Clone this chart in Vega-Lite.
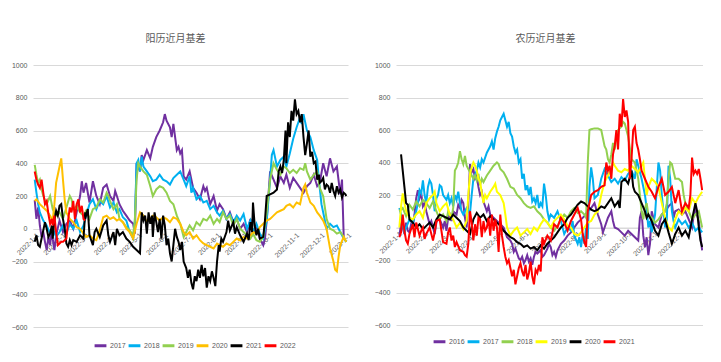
{
"$schema": "https://vega.github.io/schema/vega-lite/v6.json",
"background": "white",
"padding": {"left": 9, "top": 34, "right": 0, "bottom": 0},
"spacing": 19,
"datasets": {
"left": [
{"s":"2017","d":"2022-01-01","v":175},{"s":"2017","d":"2022-01-03","v":60},{"s":"2017","d":"2022-01-05","v":130},{"s":"2017","d":"2022-01-07","v":20},{"s":"2017","d":"2022-01-09","v":-50},{"s":"2017","d":"2022-01-11","v":-20},{"s":"2017","d":"2022-01-13","v":-80},{"s":"2017","d":"2022-01-15","v":-130},{"s":"2017","d":"2022-01-17","v":-50},{"s":"2017","d":"2022-01-19","v":-100},{"s":"2017","d":"2022-01-21","v":0},{"s":"2017","d":"2022-01-22","v":-60},{"s":"2017","d":"2022-01-24","v":-130},{"s":"2017","d":"2022-01-26","v":-40},{"s":"2017","d":"2022-01-30","v":50},{"s":"2017","d":"2022-02-03","v":-20},{"s":"2017","d":"2022-02-07","v":30},{"s":"2017","d":"2022-02-11","v":50},{"s":"2017","d":"2022-02-15","v":0},{"s":"2017","d":"2022-02-19","v":100},{"s":"2017","d":"2022-02-23","v":200},{"s":"2017","d":"2022-02-25","v":290},{"s":"2017","d":"2022-02-27","v":220},{"s":"2017","d":"2022-03-02","v":280},{"s":"2017","d":"2022-03-04","v":220},{"s":"2017","d":"2022-03-06","v":160},{"s":"2017","d":"2022-03-10","v":290},{"s":"2017","d":"2022-03-14","v":200},{"s":"2017","d":"2022-03-18","v":150},{"s":"2017","d":"2022-03-22","v":250},{"s":"2017","d":"2022-03-24","v":260},{"s":"2017","d":"2022-03-26","v":270},{"s":"2017","d":"2022-03-30","v":200},{"s":"2017","d":"2022-04-03","v":170},{"s":"2017","d":"2022-04-05","v":230},{"s":"2017","d":"2022-04-07","v":200},{"s":"2017","d":"2022-04-10","v":150},{"s":"2017","d":"2022-04-14","v":110},{"s":"2017","d":"2022-04-18","v":80},{"s":"2017","d":"2022-04-22","v":50},{"s":"2017","d":"2022-04-26","v":30},{"s":"2017","d":"2022-04-28","v":-30},{"s":"2017","d":"2022-04-30","v":400},{"s":"2017","d":"2022-05-04","v":350},{"s":"2017","d":"2022-05-06","v":450},{"s":"2017","d":"2022-05-08","v":420},{"s":"2017","d":"2022-05-12","v":480},{"s":"2017","d":"2022-05-16","v":430},{"s":"2017","d":"2022-05-19","v":500},{"s":"2017","d":"2022-05-23","v":560},{"s":"2017","d":"2022-05-27","v":600},{"s":"2017","d":"2022-05-31","v":650},{"s":"2017","d":"2022-06-02","v":700},{"s":"2017","d":"2022-06-04","v":660},{"s":"2017","d":"2022-06-08","v":620},{"s":"2017","d":"2022-06-10","v":560},{"s":"2017","d":"2022-06-12","v":640},{"s":"2017","d":"2022-06-16","v":480},{"s":"2017","d":"2022-06-18","v":500},{"s":"2017","d":"2022-06-20","v":460},{"s":"2017","d":"2022-06-22","v":480},{"s":"2017","d":"2022-06-24","v":320},{"s":"2017","d":"2022-06-27","v":300},{"s":"2017","d":"2022-07-01","v":350},{"s":"2017","d":"2022-07-05","v":250},{"s":"2017","d":"2022-07-09","v":220},{"s":"2017","d":"2022-07-13","v":180},{"s":"2017","d":"2022-07-17","v":260},{"s":"2017","d":"2022-07-19","v":230},{"s":"2017","d":"2022-07-21","v":250},{"s":"2017","d":"2022-07-25","v":150},{"s":"2017","d":"2022-07-29","v":200},{"s":"2017","d":"2022-08-02","v":110},{"s":"2017","d":"2022-08-05","v":150},{"s":"2017","d":"2022-08-09","v":120},{"s":"2017","d":"2022-08-13","v":60},{"s":"2017","d":"2022-08-17","v":100},{"s":"2017","d":"2022-08-21","v":40},{"s":"2017","d":"2022-08-25","v":60},{"s":"2017","d":"2022-08-29","v":0},{"s":"2017","d":"2022-09-02","v":30},{"s":"2017","d":"2022-09-06","v":-20},{"s":"2017","d":"2022-09-10","v":60},{"s":"2017","d":"2022-09-13","v":-30},{"s":"2017","d":"2022-09-17","v":20},{"s":"2017","d":"2022-09-21","v":-60},{"s":"2017","d":"2022-09-25","v":-100},{"s":"2017","d":"2022-09-27","v":-60},{"s":"2017","d":"2022-09-29","v":50},{"s":"2017","d":"2022-10-01","v":200},{"s":"2017","d":"2022-10-03","v":350},{"s":"2017","d":"2022-10-07","v":300},{"s":"2017","d":"2022-10-11","v":250},{"s":"2017","d":"2022-10-15","v":320},{"s":"2017","d":"2022-10-19","v":280},{"s":"2017","d":"2022-10-22","v":330},{"s":"2017","d":"2022-10-26","v":250},{"s":"2017","d":"2022-10-30","v":310},{"s":"2017","d":"2022-11-03","v":280},{"s":"2017","d":"2022-11-07","v":250},{"s":"2017","d":"2022-11-11","v":220},{"s":"2017","d":"2022-11-15","v":260},{"s":"2017","d":"2022-11-19","v":280},{"s":"2017","d":"2022-11-23","v":330},{"s":"2017","d":"2022-11-27","v":260},{"s":"2017","d":"2022-11-30","v":280},{"s":"2017","d":"2022-12-04","v":400},{"s":"2017","d":"2022-12-08","v":320},{"s":"2017","d":"2022-12-12","v":430},{"s":"2017","d":"2022-12-16","v":350},{"s":"2017","d":"2022-12-20","v":380},{"s":"2017","d":"2022-12-24","v":210},{"s":"2017","d":"2022-12-26","v":300},{"s":"2017","d":"2022-12-28","v":-50},
{"s":"2018","d":"2022-01-01","v":300},{"s":"2018","d":"2022-01-03","v":220},{"s":"2018","d":"2022-01-05","v":150},{"s":"2018","d":"2022-01-07","v":100},{"s":"2018","d":"2022-01-11","v":50},{"s":"2018","d":"2022-01-15","v":20},{"s":"2018","d":"2022-01-19","v":-30},{"s":"2018","d":"2022-01-22","v":0},{"s":"2018","d":"2022-01-26","v":-50},{"s":"2018","d":"2022-01-30","v":-20},{"s":"2018","d":"2022-02-03","v":20},{"s":"2018","d":"2022-02-07","v":-30},{"s":"2018","d":"2022-02-11","v":30},{"s":"2018","d":"2022-02-15","v":0},{"s":"2018","d":"2022-02-19","v":50},{"s":"2018","d":"2022-02-23","v":-20},{"s":"2018","d":"2022-02-27","v":20},{"s":"2018","d":"2022-03-02","v":80},{"s":"2018","d":"2022-03-06","v":150},{"s":"2018","d":"2022-03-10","v":180},{"s":"2018","d":"2022-03-14","v":120},{"s":"2018","d":"2022-03-18","v":170},{"s":"2018","d":"2022-03-22","v":150},{"s":"2018","d":"2022-03-26","v":200},{"s":"2018","d":"2022-03-30","v":130},{"s":"2018","d":"2022-04-03","v":160},{"s":"2018","d":"2022-04-07","v":100},{"s":"2018","d":"2022-04-10","v":120},{"s":"2018","d":"2022-04-14","v":70},{"s":"2018","d":"2022-04-18","v":50},{"s":"2018","d":"2022-04-22","v":-20},{"s":"2018","d":"2022-04-26","v":-60},{"s":"2018","d":"2022-04-28","v":50},{"s":"2018","d":"2022-04-30","v":400},{"s":"2018","d":"2022-05-02","v":420},{"s":"2018","d":"2022-05-04","v":350},{"s":"2018","d":"2022-05-06","v":440},{"s":"2018","d":"2022-05-08","v":380},{"s":"2018","d":"2022-05-12","v":350},{"s":"2018","d":"2022-05-16","v":320},{"s":"2018","d":"2022-05-19","v":290},{"s":"2018","d":"2022-05-23","v":300},{"s":"2018","d":"2022-05-27","v":330},{"s":"2018","d":"2022-05-31","v":300},{"s":"2018","d":"2022-06-04","v":290},{"s":"2018","d":"2022-06-08","v":270},{"s":"2018","d":"2022-06-12","v":310},{"s":"2018","d":"2022-06-16","v":330},{"s":"2018","d":"2022-06-20","v":350},{"s":"2018","d":"2022-06-24","v":300},{"s":"2018","d":"2022-06-27","v":260},{"s":"2018","d":"2022-07-01","v":320},{"s":"2018","d":"2022-07-03","v":220},{"s":"2018","d":"2022-07-05","v":250},{"s":"2018","d":"2022-07-09","v":180},{"s":"2018","d":"2022-07-13","v":200},{"s":"2018","d":"2022-07-17","v":160},{"s":"2018","d":"2022-07-21","v":170},{"s":"2018","d":"2022-07-25","v":120},{"s":"2018","d":"2022-07-29","v":140},{"s":"2018","d":"2022-08-02","v":100},{"s":"2018","d":"2022-08-05","v":80},{"s":"2018","d":"2022-08-09","v":110},{"s":"2018","d":"2022-08-13","v":60},{"s":"2018","d":"2022-08-17","v":90},{"s":"2018","d":"2022-08-21","v":40},{"s":"2018","d":"2022-08-25","v":80},{"s":"2018","d":"2022-08-29","v":50},{"s":"2018","d":"2022-09-02","v":90},{"s":"2018","d":"2022-09-06","v":0},{"s":"2018","d":"2022-09-10","v":50},{"s":"2018","d":"2022-09-13","v":-20},{"s":"2018","d":"2022-09-17","v":30},{"s":"2018","d":"2022-09-21","v":-30},{"s":"2018","d":"2022-09-25","v":-60},{"s":"2018","d":"2022-09-29","v":50},{"s":"2018","d":"2022-10-03","v":300},{"s":"2018","d":"2022-10-05","v":450},{"s":"2018","d":"2022-10-07","v":480},{"s":"2018","d":"2022-10-11","v":380},{"s":"2018","d":"2022-10-15","v":420},{"s":"2018","d":"2022-10-19","v":440},{"s":"2018","d":"2022-10-22","v":380},{"s":"2018","d":"2022-10-26","v":460},{"s":"2018","d":"2022-10-30","v":550},{"s":"2018","d":"2022-11-03","v":620},{"s":"2018","d":"2022-11-07","v":680},{"s":"2018","d":"2022-11-09","v":640},{"s":"2018","d":"2022-11-11","v":700},{"s":"2018","d":"2022-11-15","v":600},{"s":"2018","d":"2022-11-19","v":560},{"s":"2018","d":"2022-11-23","v":480},{"s":"2018","d":"2022-11-27","v":420},{"s":"2018","d":"2022-11-29","v":300},{"s":"2018","d":"2022-11-30","v":250},{"s":"2018","d":"2022-12-02","v":150},{"s":"2018","d":"2022-12-04","v":100},{"s":"2018","d":"2022-12-08","v":0},{"s":"2018","d":"2022-12-12","v":30},{"s":"2018","d":"2022-12-16","v":10},{"s":"2018","d":"2022-12-20","v":20},{"s":"2018","d":"2022-12-24","v":-20},{"s":"2018","d":"2022-12-28","v":-60},{"s":"2018","d":"2022-12-31","v":-80},
{"s":"2019","d":"2022-01-01","v":390},{"s":"2019","d":"2022-01-03","v":330},{"s":"2019","d":"2022-01-05","v":280},{"s":"2019","d":"2022-01-07","v":300},{"s":"2019","d":"2022-01-09","v":240},{"s":"2019","d":"2022-01-11","v":200},{"s":"2019","d":"2022-01-15","v":150},{"s":"2019","d":"2022-01-19","v":200},{"s":"2019","d":"2022-01-22","v":120},{"s":"2019","d":"2022-01-26","v":80},{"s":"2019","d":"2022-01-30","v":100},{"s":"2019","d":"2022-02-03","v":60},{"s":"2019","d":"2022-02-07","v":130},{"s":"2019","d":"2022-02-11","v":200},{"s":"2019","d":"2022-02-13","v":180},{"s":"2019","d":"2022-02-15","v":120},{"s":"2019","d":"2022-02-19","v":140},{"s":"2019","d":"2022-02-23","v":100},{"s":"2019","d":"2022-02-27","v":80},{"s":"2019","d":"2022-03-02","v":110},{"s":"2019","d":"2022-03-06","v":60},{"s":"2019","d":"2022-03-10","v":120},{"s":"2019","d":"2022-03-14","v":130},{"s":"2019","d":"2022-03-18","v":180},{"s":"2019","d":"2022-03-22","v":160},{"s":"2019","d":"2022-03-26","v":220},{"s":"2019","d":"2022-03-28","v":200},{"s":"2019","d":"2022-03-30","v":170},{"s":"2019","d":"2022-04-03","v":120},{"s":"2019","d":"2022-04-07","v":150},{"s":"2019","d":"2022-04-10","v":60},{"s":"2019","d":"2022-04-14","v":40},{"s":"2019","d":"2022-04-18","v":10},{"s":"2019","d":"2022-04-22","v":-10},{"s":"2019","d":"2022-04-26","v":-40},{"s":"2019","d":"2022-04-28","v":50},{"s":"2019","d":"2022-04-30","v":300},{"s":"2019","d":"2022-05-02","v":400},{"s":"2019","d":"2022-05-04","v":380},{"s":"2019","d":"2022-05-08","v":350},{"s":"2019","d":"2022-05-12","v":330},{"s":"2019","d":"2022-05-16","v":260},{"s":"2019","d":"2022-05-19","v":200},{"s":"2019","d":"2022-05-23","v":240},{"s":"2019","d":"2022-05-27","v":260},{"s":"2019","d":"2022-05-31","v":250},{"s":"2019","d":"2022-06-04","v":220},{"s":"2019","d":"2022-06-08","v":170},{"s":"2019","d":"2022-06-12","v":150},{"s":"2019","d":"2022-06-16","v":80},{"s":"2019","d":"2022-06-20","v":30},{"s":"2019","d":"2022-06-24","v":-50},{"s":"2019","d":"2022-06-27","v":-20},{"s":"2019","d":"2022-07-01","v":20},{"s":"2019","d":"2022-07-05","v":-10},{"s":"2019","d":"2022-07-09","v":40},{"s":"2019","d":"2022-07-13","v":20},{"s":"2019","d":"2022-07-17","v":60},{"s":"2019","d":"2022-07-21","v":50},{"s":"2019","d":"2022-07-25","v":80},{"s":"2019","d":"2022-07-29","v":30},{"s":"2019","d":"2022-08-02","v":60},{"s":"2019","d":"2022-08-05","v":40},{"s":"2019","d":"2022-08-09","v":100},{"s":"2019","d":"2022-08-13","v":60},{"s":"2019","d":"2022-08-17","v":80},{"s":"2019","d":"2022-08-21","v":20},{"s":"2019","d":"2022-08-25","v":60},{"s":"2019","d":"2022-08-29","v":0},{"s":"2019","d":"2022-09-02","v":-20},{"s":"2019","d":"2022-09-06","v":-40},{"s":"2019","d":"2022-09-10","v":-60},{"s":"2019","d":"2022-09-13","v":-30},{"s":"2019","d":"2022-09-17","v":-70},{"s":"2019","d":"2022-09-21","v":-80},{"s":"2019","d":"2022-09-25","v":-50},{"s":"2019","d":"2022-09-29","v":100},{"s":"2019","d":"2022-10-03","v":300},{"s":"2019","d":"2022-10-07","v":400},{"s":"2019","d":"2022-10-11","v":360},{"s":"2019","d":"2022-10-15","v":330},{"s":"2019","d":"2022-10-19","v":380},{"s":"2019","d":"2022-10-22","v":370},{"s":"2019","d":"2022-10-26","v":340},{"s":"2019","d":"2022-10-30","v":360},{"s":"2019","d":"2022-11-03","v":340},{"s":"2019","d":"2022-11-07","v":370},{"s":"2019","d":"2022-11-11","v":360},{"s":"2019","d":"2022-11-13","v":400},{"s":"2019","d":"2022-11-15","v":350},{"s":"2019","d":"2022-11-19","v":300},{"s":"2019","d":"2022-11-23","v":330},{"s":"2019","d":"2022-11-27","v":350},{"s":"2019","d":"2022-11-30","v":250},{"s":"2019","d":"2022-12-04","v":200},{"s":"2019","d":"2022-12-08","v":60},{"s":"2019","d":"2022-12-12","v":0},{"s":"2019","d":"2022-12-16","v":-10},{"s":"2019","d":"2022-12-20","v":-30},{"s":"2019","d":"2022-12-24","v":-20},{"s":"2019","d":"2022-12-28","v":-50},{"s":"2019","d":"2022-12-31","v":-80},
{"s":"2020","d":"2022-01-01","v":170},{"s":"2020","d":"2022-01-03","v":180},{"s":"2020","d":"2022-01-07","v":150},{"s":"2020","d":"2022-01-11","v":130},{"s":"2020","d":"2022-01-15","v":110},{"s":"2020","d":"2022-01-19","v":80},{"s":"2020","d":"2022-01-22","v":50},{"s":"2020","d":"2022-01-24","v":150},{"s":"2020","d":"2022-01-26","v":280},{"s":"2020","d":"2022-01-28","v":330},{"s":"2020","d":"2022-01-30","v":380},{"s":"2020","d":"2022-02-01","v":430},{"s":"2020","d":"2022-02-03","v":300},{"s":"2020","d":"2022-02-05","v":180},{"s":"2020","d":"2022-02-07","v":100},{"s":"2020","d":"2022-02-11","v":60},{"s":"2020","d":"2022-02-15","v":40},{"s":"2020","d":"2022-02-19","v":10},{"s":"2020","d":"2022-02-23","v":0},{"s":"2020","d":"2022-02-27","v":-30},{"s":"2020","d":"2022-03-02","v":-50},{"s":"2020","d":"2022-03-06","v":-40},{"s":"2020","d":"2022-03-10","v":-60},{"s":"2020","d":"2022-03-14","v":-70},{"s":"2020","d":"2022-03-18","v":-10},{"s":"2020","d":"2022-03-22","v":70},{"s":"2020","d":"2022-03-26","v":80},{"s":"2020","d":"2022-03-30","v":60},{"s":"2020","d":"2022-04-03","v":70},{"s":"2020","d":"2022-04-07","v":50},{"s":"2020","d":"2022-04-10","v":60},{"s":"2020","d":"2022-04-14","v":40},{"s":"2020","d":"2022-04-18","v":0},{"s":"2020","d":"2022-04-22","v":-20},{"s":"2020","d":"2022-04-26","v":-60},{"s":"2020","d":"2022-04-30","v":30},{"s":"2020","d":"2022-05-04","v":100},{"s":"2020","d":"2022-05-08","v":80},{"s":"2020","d":"2022-05-12","v":40},{"s":"2020","d":"2022-05-16","v":60},{"s":"2020","d":"2022-05-19","v":80},{"s":"2020","d":"2022-05-23","v":70},{"s":"2020","d":"2022-05-27","v":50},{"s":"2020","d":"2022-05-31","v":70},{"s":"2020","d":"2022-06-04","v":60},{"s":"2020","d":"2022-06-08","v":40},{"s":"2020","d":"2022-06-12","v":70},{"s":"2020","d":"2022-06-16","v":60},{"s":"2020","d":"2022-06-20","v":30},{"s":"2020","d":"2022-06-24","v":-20},{"s":"2020","d":"2022-06-27","v":-40},{"s":"2020","d":"2022-07-01","v":-20},{"s":"2020","d":"2022-07-05","v":-60},{"s":"2020","d":"2022-07-09","v":-40},{"s":"2020","d":"2022-07-13","v":-70},{"s":"2020","d":"2022-07-17","v":-90},{"s":"2020","d":"2022-07-21","v":-100},{"s":"2020","d":"2022-07-25","v":-110},{"s":"2020","d":"2022-07-29","v":-120},{"s":"2020","d":"2022-08-02","v":-90},{"s":"2020","d":"2022-08-05","v":-100},{"s":"2020","d":"2022-08-09","v":-110},{"s":"2020","d":"2022-08-13","v":-90},{"s":"2020","d":"2022-08-17","v":-100},{"s":"2020","d":"2022-08-21","v":-80},{"s":"2020","d":"2022-08-25","v":-60},{"s":"2020","d":"2022-08-29","v":-70},{"s":"2020","d":"2022-09-02","v":-50},{"s":"2020","d":"2022-09-06","v":-60},{"s":"2020","d":"2022-09-10","v":-40},{"s":"2020","d":"2022-09-13","v":-20},{"s":"2020","d":"2022-09-17","v":-30},{"s":"2020","d":"2022-09-21","v":10},{"s":"2020","d":"2022-09-25","v":30},{"s":"2020","d":"2022-09-29","v":50},{"s":"2020","d":"2022-10-03","v":60},{"s":"2020","d":"2022-10-07","v":80},{"s":"2020","d":"2022-10-11","v":100},{"s":"2020","d":"2022-10-15","v":110},{"s":"2020","d":"2022-10-19","v":120},{"s":"2020","d":"2022-10-22","v":140},{"s":"2020","d":"2022-10-26","v":150},{"s":"2020","d":"2022-10-30","v":130},{"s":"2020","d":"2022-11-03","v":160},{"s":"2020","d":"2022-11-07","v":150},{"s":"2020","d":"2022-11-09","v":200},{"s":"2020","d":"2022-11-11","v":250},{"s":"2020","d":"2022-11-13","v":270},{"s":"2020","d":"2022-11-15","v":220},{"s":"2020","d":"2022-11-19","v":160},{"s":"2020","d":"2022-11-23","v":140},{"s":"2020","d":"2022-11-27","v":100},{"s":"2020","d":"2022-11-30","v":80},{"s":"2020","d":"2022-12-04","v":50},{"s":"2020","d":"2022-12-08","v":0},{"s":"2020","d":"2022-12-10","v":-60},{"s":"2020","d":"2022-12-12","v":-120},{"s":"2020","d":"2022-12-16","v":-200},{"s":"2020","d":"2022-12-18","v":-250},{"s":"2020","d":"2022-12-20","v":-260},{"s":"2020","d":"2022-12-22","v":-170},{"s":"2020","d":"2022-12-24","v":-100},{"s":"2020","d":"2022-12-28","v":-50},{"s":"2020","d":"2022-12-31","v":-80},
{"s":"2021","d":"2022-01-01","v":-80},{"s":"2021","d":"2022-01-03","v":-40},{"s":"2021","d":"2022-01-05","v":-100},{"s":"2021","d":"2022-01-07","v":-110},{"s":"2021","d":"2022-01-09","v":-60},{"s":"2021","d":"2022-01-11","v":-10},{"s":"2021","d":"2022-01-13","v":40},{"s":"2021","d":"2022-01-15","v":0},{"s":"2021","d":"2022-01-17","v":-50},{"s":"2021","d":"2022-01-19","v":-30},{"s":"2021","d":"2022-01-21","v":20},{"s":"2021","d":"2022-01-22","v":-60},{"s":"2021","d":"2022-01-24","v":50},{"s":"2021","d":"2022-01-26","v":110},{"s":"2021","d":"2022-01-28","v":80},{"s":"2021","d":"2022-01-30","v":140},{"s":"2021","d":"2022-02-01","v":150},{"s":"2021","d":"2022-02-03","v":60},{"s":"2021","d":"2022-02-05","v":0},{"s":"2021","d":"2022-02-07","v":-90},{"s":"2021","d":"2022-02-09","v":-110},{"s":"2021","d":"2022-02-11","v":-70},{"s":"2021","d":"2022-02-13","v":-100},{"s":"2021","d":"2022-02-15","v":-70},{"s":"2021","d":"2022-02-19","v":-80},{"s":"2021","d":"2022-02-23","v":-40},{"s":"2021","d":"2022-02-27","v":-60},{"s":"2021","d":"2022-03-01","v":100},{"s":"2021","d":"2022-03-02","v":80},{"s":"2021","d":"2022-03-04","v":120},{"s":"2021","d":"2022-03-06","v":-40},{"s":"2021","d":"2022-03-10","v":-100},{"s":"2021","d":"2022-03-12","v":-20},{"s":"2021","d":"2022-03-14","v":0},{"s":"2021","d":"2022-03-18","v":-50},{"s":"2021","d":"2022-03-22","v":20},{"s":"2021","d":"2022-03-26","v":50},{"s":"2021","d":"2022-03-28","v":-40},{"s":"2021","d":"2022-03-30","v":-80},{"s":"2021","d":"2022-04-03","v":-20},{"s":"2021","d":"2022-04-05","v":-100},{"s":"2021","d":"2022-04-07","v":0},{"s":"2021","d":"2022-04-10","v":-40},{"s":"2021","d":"2022-04-14","v":-20},{"s":"2021","d":"2022-04-18","v":-60},{"s":"2021","d":"2022-04-22","v":-80},{"s":"2021","d":"2022-04-26","v":-110},{"s":"2021","d":"2022-04-30","v":-130},{"s":"2021","d":"2022-05-04","v":-150},{"s":"2021","d":"2022-05-06","v":100},{"s":"2021","d":"2022-05-08","v":50},{"s":"2021","d":"2022-05-10","v":80},{"s":"2021","d":"2022-05-12","v":-30},{"s":"2021","d":"2022-05-14","v":100},{"s":"2021","d":"2022-05-16","v":30},{"s":"2021","d":"2022-05-18","v":80},{"s":"2021","d":"2022-05-19","v":-50},{"s":"2021","d":"2022-05-21","v":100},{"s":"2021","d":"2022-05-23","v":40},{"s":"2021","d":"2022-05-25","v":-20},{"s":"2021","d":"2022-05-27","v":60},{"s":"2021","d":"2022-05-29","v":-60},{"s":"2021","d":"2022-05-31","v":80},{"s":"2021","d":"2022-06-02","v":20},{"s":"2021","d":"2022-06-04","v":-100},{"s":"2021","d":"2022-06-06","v":-60},{"s":"2021","d":"2022-06-08","v":-150},{"s":"2021","d":"2022-06-10","v":-200},{"s":"2021","d":"2022-06-12","v":-100},{"s":"2021","d":"2022-06-14","v":0},{"s":"2021","d":"2022-06-16","v":-50},{"s":"2021","d":"2022-06-18","v":-80},{"s":"2021","d":"2022-06-20","v":-130},{"s":"2021","d":"2022-06-22","v":-80},{"s":"2021","d":"2022-06-24","v":-200},{"s":"2021","d":"2022-06-27","v":-240},{"s":"2021","d":"2022-06-29","v":-300},{"s":"2021","d":"2022-07-01","v":-250},{"s":"2021","d":"2022-07-03","v":-330},{"s":"2021","d":"2022-07-05","v":-370},{"s":"2021","d":"2022-07-07","v":-290},{"s":"2021","d":"2022-07-09","v":-320},{"s":"2021","d":"2022-07-11","v":-250},{"s":"2021","d":"2022-07-13","v":-300},{"s":"2021","d":"2022-07-15","v":-220},{"s":"2021","d":"2022-07-17","v":-290},{"s":"2021","d":"2022-07-19","v":-240},{"s":"2021","d":"2022-07-21","v":-360},{"s":"2021","d":"2022-07-23","v":-290},{"s":"2021","d":"2022-07-25","v":-320},{"s":"2021","d":"2022-07-27","v":-260},{"s":"2021","d":"2022-07-29","v":-300},{"s":"2021","d":"2022-07-31","v":-350},{"s":"2021","d":"2022-08-02","v":-200},{"s":"2021","d":"2022-08-04","v":-100},{"s":"2021","d":"2022-08-05","v":-140},{"s":"2021","d":"2022-08-07","v":-60},{"s":"2021","d":"2022-08-09","v":-80},{"s":"2021","d":"2022-08-13","v":-20},{"s":"2021","d":"2022-08-15","v":50},{"s":"2021","d":"2022-08-17","v":-10},{"s":"2021","d":"2022-08-21","v":40},{"s":"2021","d":"2022-08-23","v":-30},{"s":"2021","d":"2022-08-25","v":10},{"s":"2021","d":"2022-08-29","v":-40},{"s":"2021","d":"2022-09-02","v":-80},{"s":"2021","d":"2022-09-06","v":-30},{"s":"2021","d":"2022-09-08","v":-70},{"s":"2021","d":"2022-09-10","v":40},{"s":"2021","d":"2022-09-12","v":-20},{"s":"2021","d":"2022-09-13","v":160},{"s":"2021","d":"2022-09-15","v":20},{"s":"2021","d":"2022-09-17","v":-40},{"s":"2021","d":"2022-09-19","v":0},{"s":"2021","d":"2022-09-21","v":-60},{"s":"2021","d":"2022-09-25","v":-50},{"s":"2021","d":"2022-09-27","v":50},{"s":"2021","d":"2022-09-29","v":200},{"s":"2021","d":"2022-10-03","v":210},{"s":"2021","d":"2022-10-07","v":220},{"s":"2021","d":"2022-10-11","v":240},{"s":"2021","d":"2022-10-13","v":350},{"s":"2021","d":"2022-10-15","v":380},{"s":"2021","d":"2022-10-17","v":340},{"s":"2021","d":"2022-10-19","v":420},{"s":"2021","d":"2022-10-21","v":600},{"s":"2021","d":"2022-10-22","v":400},{"s":"2021","d":"2022-10-24","v":650},{"s":"2021","d":"2022-10-26","v":560},{"s":"2021","d":"2022-10-28","v":720},{"s":"2021","d":"2022-10-30","v":660},{"s":"2021","d":"2022-11-01","v":790},{"s":"2021","d":"2022-11-03","v":700},{"s":"2021","d":"2022-11-05","v":720},{"s":"2021","d":"2022-11-07","v":650},{"s":"2021","d":"2022-11-09","v":700},{"s":"2021","d":"2022-11-11","v":560},{"s":"2021","d":"2022-11-13","v":450},{"s":"2021","d":"2022-11-15","v":520},{"s":"2021","d":"2022-11-17","v":600},{"s":"2021","d":"2022-11-19","v":440},{"s":"2021","d":"2022-11-21","v":470},{"s":"2021","d":"2022-11-23","v":400},{"s":"2021","d":"2022-11-25","v":410},{"s":"2021","d":"2022-11-27","v":300},{"s":"2021","d":"2022-11-29","v":330},{"s":"2021","d":"2022-11-30","v":280},{"s":"2021","d":"2022-12-02","v":290},{"s":"2021","d":"2022-12-04","v":310},{"s":"2021","d":"2022-12-06","v":240},{"s":"2021","d":"2022-12-08","v":270},{"s":"2021","d":"2022-12-10","v":260},{"s":"2021","d":"2022-12-12","v":220},{"s":"2021","d":"2022-12-14","v":280},{"s":"2021","d":"2022-12-16","v":230},{"s":"2021","d":"2022-12-18","v":200},{"s":"2021","d":"2022-12-20","v":260},{"s":"2021","d":"2022-12-22","v":220},{"s":"2021","d":"2022-12-24","v":240},{"s":"2021","d":"2022-12-26","v":190},{"s":"2021","d":"2022-12-28","v":220},{"s":"2021","d":"2022-12-30","v":210},{"s":"2021","d":"2022-12-31","v":200},
{"s":"2022","d":"2022-01-01","v":350},{"s":"2022","d":"2022-01-03","v":300},{"s":"2022","d":"2022-01-05","v":270},{"s":"2022","d":"2022-01-07","v":250},{"s":"2022","d":"2022-01-09","v":300},{"s":"2022","d":"2022-01-11","v":220},{"s":"2022","d":"2022-01-13","v":150},{"s":"2022","d":"2022-01-15","v":170},{"s":"2022","d":"2022-01-17","v":90},{"s":"2022","d":"2022-01-19","v":30},{"s":"2022","d":"2022-01-21","v":60},{"s":"2022","d":"2022-01-22","v":20},{"s":"2022","d":"2022-01-24","v":80},{"s":"2022","d":"2022-01-26","v":-20},{"s":"2022","d":"2022-01-28","v":-100},{"s":"2022","d":"2022-01-30","v":-90},{"s":"2022","d":"2022-02-01","v":-80},{"s":"2022","d":"2022-02-03","v":-80},{"s":"2022","d":"2022-02-05","v":-70},{"s":"2022","d":"2022-02-07","v":-60},{"s":"2022","d":"2022-02-09","v":50},{"s":"2022","d":"2022-02-11","v":130},{"s":"2022","d":"2022-02-13","v":100},{"s":"2022","d":"2022-02-15","v":170},{"s":"2022","d":"2022-02-17","v":60},{"s":"2022","d":"2022-02-19","v":150},{"s":"2022","d":"2022-02-21","v":180},{"s":"2022","d":"2022-02-23","v":100},{"s":"2022","d":"2022-02-25","v":140},{"s":"2022","d":"2022-02-27","v":60},{"s":"2022","d":"2022-03-01","v":50}
],
"right": [
{"s":"2016","d":"2022-01-03","v":-50},{"s":"2016","d":"2022-01-05","v":20},{"s":"2016","d":"2022-01-07","v":0},{"s":"2016","d":"2022-01-09","v":-40},{"s":"2016","d":"2022-01-11","v":30},{"s":"2016","d":"2022-01-13","v":-20},{"s":"2016","d":"2022-01-15","v":-30},{"s":"2016","d":"2022-01-17","v":20},{"s":"2016","d":"2022-01-19","v":0},{"s":"2016","d":"2022-01-21","v":80},{"s":"2016","d":"2022-01-23","v":180},{"s":"2016","d":"2022-01-25","v":230},{"s":"2016","d":"2022-01-27","v":180},{"s":"2016","d":"2022-01-29","v":210},{"s":"2016","d":"2022-01-31","v":130},{"s":"2016","d":"2022-02-02","v":150},{"s":"2016","d":"2022-02-04","v":100},{"s":"2016","d":"2022-02-06","v":60},{"s":"2016","d":"2022-02-08","v":20},{"s":"2016","d":"2022-02-10","v":40},{"s":"2016","d":"2022-02-12","v":0},{"s":"2016","d":"2022-02-14","v":-40},{"s":"2016","d":"2022-02-16","v":30},{"s":"2016","d":"2022-02-18","v":60},{"s":"2016","d":"2022-02-20","v":50},{"s":"2016","d":"2022-02-24","v":0},{"s":"2016","d":"2022-02-26","v":40},{"s":"2016","d":"2022-02-28","v":-20},{"s":"2016","d":"2022-03-02","v":60},{"s":"2016","d":"2022-03-04","v":80},{"s":"2016","d":"2022-03-06","v":40},{"s":"2016","d":"2022-03-08","v":100},{"s":"2016","d":"2022-03-12","v":80},{"s":"2016","d":"2022-03-14","v":140},{"s":"2016","d":"2022-03-16","v":120},{"s":"2016","d":"2022-03-18","v":170},{"s":"2016","d":"2022-03-20","v":150},{"s":"2016","d":"2022-03-22","v":60},{"s":"2016","d":"2022-03-24","v":0},{"s":"2016","d":"2022-03-26","v":150},{"s":"2016","d":"2022-03-28","v":390},{"s":"2016","d":"2022-03-30","v":340},{"s":"2016","d":"2022-04-01","v":360},{"s":"2016","d":"2022-04-03","v":300},{"s":"2016","d":"2022-04-05","v":320},{"s":"2016","d":"2022-04-07","v":250},{"s":"2016","d":"2022-04-09","v":200},{"s":"2016","d":"2022-04-11","v":220},{"s":"2016","d":"2022-04-13","v":160},{"s":"2016","d":"2022-04-17","v":100},{"s":"2016","d":"2022-04-19","v":130},{"s":"2016","d":"2022-04-21","v":80},{"s":"2016","d":"2022-04-25","v":60},{"s":"2016","d":"2022-04-29","v":40},{"s":"2016","d":"2022-05-03","v":20},{"s":"2016","d":"2022-05-07","v":0},{"s":"2016","d":"2022-05-09","v":-30},{"s":"2016","d":"2022-05-11","v":-60},{"s":"2016","d":"2022-05-15","v":-80},{"s":"2016","d":"2022-05-17","v":-100},{"s":"2016","d":"2022-05-19","v":-150},{"s":"2016","d":"2022-05-21","v":-130},{"s":"2016","d":"2022-05-23","v":-160},{"s":"2016","d":"2022-05-25","v":-190},{"s":"2016","d":"2022-05-27","v":-200},{"s":"2016","d":"2022-05-29","v":-180},{"s":"2016","d":"2022-05-31","v":-220},{"s":"2016","d":"2022-06-02","v":-200},{"s":"2016","d":"2022-06-04","v":-170},{"s":"2016","d":"2022-06-06","v":-210},{"s":"2016","d":"2022-06-08","v":-190},{"s":"2016","d":"2022-06-10","v":-230},{"s":"2016","d":"2022-06-12","v":-180},{"s":"2016","d":"2022-06-14","v":-150},{"s":"2016","d":"2022-06-16","v":-160},{"s":"2016","d":"2022-06-20","v":-140},{"s":"2016","d":"2022-06-22","v":-180},{"s":"2016","d":"2022-06-24","v":-170},{"s":"2016","d":"2022-06-28","v":-130},{"s":"2016","d":"2022-06-30","v":-100},{"s":"2016","d":"2022-07-02","v":-120},{"s":"2016","d":"2022-07-04","v":-170},{"s":"2016","d":"2022-07-06","v":-150},{"s":"2016","d":"2022-07-08","v":-180},{"s":"2016","d":"2022-07-10","v":-140},{"s":"2016","d":"2022-07-14","v":-100},{"s":"2016","d":"2022-07-18","v":-80},{"s":"2016","d":"2022-07-22","v":-50},{"s":"2016","d":"2022-07-26","v":-30},{"s":"2016","d":"2022-07-30","v":0},{"s":"2016","d":"2022-08-03","v":30},{"s":"2016","d":"2022-08-07","v":50},{"s":"2016","d":"2022-08-11","v":70},{"s":"2016","d":"2022-08-15","v":100},{"s":"2016","d":"2022-08-19","v":120},{"s":"2016","d":"2022-08-23","v":150},{"s":"2016","d":"2022-08-27","v":80},{"s":"2016","d":"2022-08-31","v":20},{"s":"2016","d":"2022-09-02","v":-30},{"s":"2016","d":"2022-09-04","v":0},{"s":"2016","d":"2022-09-08","v":60},{"s":"2016","d":"2022-09-12","v":100},{"s":"2016","d":"2022-09-14","v":40},{"s":"2016","d":"2022-09-16","v":0},{"s":"2016","d":"2022-09-20","v":-10},{"s":"2016","d":"2022-09-24","v":-30},{"s":"2016","d":"2022-09-28","v":-50},{"s":"2016","d":"2022-10-02","v":-20},{"s":"2016","d":"2022-10-06","v":-40},{"s":"2016","d":"2022-10-10","v":-60},{"s":"2016","d":"2022-10-14","v":-80},{"s":"2016","d":"2022-10-16","v":60},{"s":"2016","d":"2022-10-18","v":100},{"s":"2016","d":"2022-10-20","v":-50},{"s":"2016","d":"2022-10-22","v":-120},{"s":"2016","d":"2022-10-24","v":-60},{"s":"2016","d":"2022-10-26","v":-170},{"s":"2016","d":"2022-10-28","v":-100},{"s":"2016","d":"2022-10-30","v":100},{"s":"2016","d":"2022-11-01","v":60},{"s":"2016","d":"2022-11-03","v":20},{"s":"2016","d":"2022-11-07","v":0},{"s":"2016","d":"2022-11-11","v":80},{"s":"2016","d":"2022-11-15","v":100},{"s":"2016","d":"2022-11-19","v":130},{"s":"2016","d":"2022-11-23","v":150},{"s":"2016","d":"2022-11-25","v":60},{"s":"2016","d":"2022-11-27","v":100},{"s":"2016","d":"2022-12-01","v":110},{"s":"2016","d":"2022-12-05","v":80},{"s":"2016","d":"2022-12-09","v":100},{"s":"2016","d":"2022-12-13","v":50},{"s":"2016","d":"2022-12-17","v":0},{"s":"2016","d":"2022-12-19","v":80},{"s":"2016","d":"2022-12-21","v":110},{"s":"2016","d":"2022-12-25","v":40},{"s":"2016","d":"2022-12-27","v":-60},{"s":"2016","d":"2022-12-29","v":-140},
{"s":"2017","d":"2022-01-03","v":120},{"s":"2017","d":"2022-01-05","v":80},{"s":"2017","d":"2022-01-07","v":10},{"s":"2017","d":"2022-01-09","v":-30},{"s":"2017","d":"2022-01-11","v":0},{"s":"2017","d":"2022-01-15","v":50},{"s":"2017","d":"2022-01-19","v":30},{"s":"2017","d":"2022-01-23","v":100},{"s":"2017","d":"2022-01-25","v":150},{"s":"2017","d":"2022-01-27","v":230},{"s":"2017","d":"2022-01-29","v":210},{"s":"2017","d":"2022-01-31","v":290},{"s":"2017","d":"2022-02-02","v":200},{"s":"2017","d":"2022-02-04","v":150},{"s":"2017","d":"2022-02-06","v":250},{"s":"2017","d":"2022-02-08","v":290},{"s":"2017","d":"2022-02-10","v":270},{"s":"2017","d":"2022-02-12","v":200},{"s":"2017","d":"2022-02-14","v":100},{"s":"2017","d":"2022-02-16","v":180},{"s":"2017","d":"2022-02-18","v":200},{"s":"2017","d":"2022-02-20","v":260},{"s":"2017","d":"2022-02-22","v":250},{"s":"2017","d":"2022-02-24","v":200},{"s":"2017","d":"2022-02-28","v":170},{"s":"2017","d":"2022-03-02","v":200},{"s":"2017","d":"2022-03-04","v":150},{"s":"2017","d":"2022-03-06","v":180},{"s":"2017","d":"2022-03-08","v":130},{"s":"2017","d":"2022-03-10","v":200},{"s":"2017","d":"2022-03-12","v":170},{"s":"2017","d":"2022-03-14","v":220},{"s":"2017","d":"2022-03-16","v":150},{"s":"2017","d":"2022-03-18","v":100},{"s":"2017","d":"2022-03-20","v":80},{"s":"2017","d":"2022-03-24","v":120},{"s":"2017","d":"2022-03-28","v":90},{"s":"2017","d":"2022-03-30","v":200},{"s":"2017","d":"2022-04-01","v":300},{"s":"2017","d":"2022-04-05","v":350},{"s":"2017","d":"2022-04-07","v":400},{"s":"2017","d":"2022-04-09","v":370},{"s":"2017","d":"2022-04-11","v":420},{"s":"2017","d":"2022-04-13","v":400},{"s":"2017","d":"2022-04-17","v":460},{"s":"2017","d":"2022-04-21","v":500},{"s":"2017","d":"2022-04-23","v":530},{"s":"2017","d":"2022-04-25","v":480},{"s":"2017","d":"2022-04-27","v":550},{"s":"2017","d":"2022-04-29","v":590},{"s":"2017","d":"2022-05-01","v":620},{"s":"2017","d":"2022-05-03","v":660},{"s":"2017","d":"2022-05-05","v":680},{"s":"2017","d":"2022-05-07","v":700},{"s":"2017","d":"2022-05-09","v":660},{"s":"2017","d":"2022-05-11","v":620},{"s":"2017","d":"2022-05-13","v":650},{"s":"2017","d":"2022-05-15","v":580},{"s":"2017","d":"2022-05-17","v":560},{"s":"2017","d":"2022-05-19","v":500},{"s":"2017","d":"2022-05-21","v":460},{"s":"2017","d":"2022-05-23","v":480},{"s":"2017","d":"2022-05-25","v":400},{"s":"2017","d":"2022-05-27","v":420},{"s":"2017","d":"2022-05-29","v":300},{"s":"2017","d":"2022-05-31","v":330},{"s":"2017","d":"2022-06-02","v":230},{"s":"2017","d":"2022-06-04","v":260},{"s":"2017","d":"2022-06-06","v":200},{"s":"2017","d":"2022-06-08","v":250},{"s":"2017","d":"2022-06-10","v":160},{"s":"2017","d":"2022-06-12","v":180},{"s":"2017","d":"2022-06-14","v":150},{"s":"2017","d":"2022-06-16","v":200},{"s":"2017","d":"2022-06-18","v":120},{"s":"2017","d":"2022-06-20","v":150},{"s":"2017","d":"2022-06-22","v":130},{"s":"2017","d":"2022-06-24","v":270},{"s":"2017","d":"2022-06-26","v":200},{"s":"2017","d":"2022-06-28","v":100},{"s":"2017","d":"2022-06-30","v":50},{"s":"2017","d":"2022-07-02","v":80},{"s":"2017","d":"2022-07-06","v":60},{"s":"2017","d":"2022-07-10","v":100},{"s":"2017","d":"2022-07-14","v":40},{"s":"2017","d":"2022-07-18","v":-40},{"s":"2017","d":"2022-07-22","v":0},{"s":"2017","d":"2022-07-26","v":-20},{"s":"2017","d":"2022-07-28","v":40},{"s":"2017","d":"2022-07-30","v":-50},{"s":"2017","d":"2022-08-03","v":-100},{"s":"2017","d":"2022-08-05","v":-60},{"s":"2017","d":"2022-08-07","v":-120},{"s":"2017","d":"2022-08-09","v":-40},{"s":"2017","d":"2022-08-11","v":-100},{"s":"2017","d":"2022-08-13","v":0},{"s":"2017","d":"2022-08-15","v":-70},{"s":"2017","d":"2022-08-17","v":250},{"s":"2017","d":"2022-08-19","v":370},{"s":"2017","d":"2022-08-21","v":300},{"s":"2017","d":"2022-08-23","v":180},{"s":"2017","d":"2022-08-27","v":200},{"s":"2017","d":"2022-08-31","v":300},{"s":"2017","d":"2022-09-04","v":360},{"s":"2017","d":"2022-09-08","v":320},{"s":"2017","d":"2022-09-12","v":280},{"s":"2017","d":"2022-09-16","v":300},{"s":"2017","d":"2022-09-20","v":270},{"s":"2017","d":"2022-09-24","v":310},{"s":"2017","d":"2022-09-28","v":290},{"s":"2017","d":"2022-10-02","v":330},{"s":"2017","d":"2022-10-06","v":350},{"s":"2017","d":"2022-10-10","v":300},{"s":"2017","d":"2022-10-12","v":420},{"s":"2017","d":"2022-10-14","v":380},{"s":"2017","d":"2022-10-18","v":300},{"s":"2017","d":"2022-10-22","v":200},{"s":"2017","d":"2022-10-24","v":120},{"s":"2017","d":"2022-10-26","v":0},{"s":"2017","d":"2022-10-28","v":40},{"s":"2017","d":"2022-10-30","v":-30},{"s":"2017","d":"2022-11-03","v":80},{"s":"2017","d":"2022-11-07","v":400},{"s":"2017","d":"2022-11-09","v":350},{"s":"2017","d":"2022-11-11","v":200},{"s":"2017","d":"2022-11-13","v":100},{"s":"2017","d":"2022-11-15","v":0},{"s":"2017","d":"2022-11-17","v":50},{"s":"2017","d":"2022-11-19","v":380},{"s":"2017","d":"2022-11-21","v":300},{"s":"2017","d":"2022-11-23","v":100},{"s":"2017","d":"2022-11-25","v":40},{"s":"2017","d":"2022-11-27","v":0},{"s":"2017","d":"2022-12-01","v":50},{"s":"2017","d":"2022-12-05","v":20},{"s":"2017","d":"2022-12-09","v":40},{"s":"2017","d":"2022-12-13","v":0},{"s":"2017","d":"2022-12-17","v":30},{"s":"2017","d":"2022-12-21","v":-20},{"s":"2017","d":"2022-12-25","v":0},{"s":"2017","d":"2022-12-29","v":-30},
{"s":"2018","d":"2022-01-03","v":100},{"s":"2018","d":"2022-01-07","v":120},{"s":"2018","d":"2022-01-11","v":70},{"s":"2018","d":"2022-01-15","v":140},{"s":"2018","d":"2022-01-19","v":110},{"s":"2018","d":"2022-01-23","v":160},{"s":"2018","d":"2022-01-27","v":130},{"s":"2018","d":"2022-01-31","v":170},{"s":"2018","d":"2022-02-04","v":150},{"s":"2018","d":"2022-02-08","v":120},{"s":"2018","d":"2022-02-12","v":160},{"s":"2018","d":"2022-02-16","v":100},{"s":"2018","d":"2022-02-20","v":50},{"s":"2018","d":"2022-02-24","v":80},{"s":"2018","d":"2022-02-28","v":40},{"s":"2018","d":"2022-03-02","v":100},{"s":"2018","d":"2022-03-04","v":80},{"s":"2018","d":"2022-03-06","v":60},{"s":"2018","d":"2022-03-08","v":120},{"s":"2018","d":"2022-03-10","v":350},{"s":"2018","d":"2022-03-12","v":370},{"s":"2018","d":"2022-03-14","v":400},{"s":"2018","d":"2022-03-16","v":470},{"s":"2018","d":"2022-03-18","v":420},{"s":"2018","d":"2022-03-20","v":390},{"s":"2018","d":"2022-03-22","v":440},{"s":"2018","d":"2022-03-24","v":380},{"s":"2018","d":"2022-03-26","v":360},{"s":"2018","d":"2022-03-28","v":340},{"s":"2018","d":"2022-04-01","v":300},{"s":"2018","d":"2022-04-03","v":320},{"s":"2018","d":"2022-04-05","v":290},{"s":"2018","d":"2022-04-07","v":330},{"s":"2018","d":"2022-04-09","v":260},{"s":"2018","d":"2022-04-11","v":300},{"s":"2018","d":"2022-04-13","v":280},{"s":"2018","d":"2022-04-17","v":320},{"s":"2018","d":"2022-04-21","v":350},{"s":"2018","d":"2022-04-25","v":380},{"s":"2018","d":"2022-04-29","v":400},{"s":"2018","d":"2022-05-01","v":390},{"s":"2018","d":"2022-05-03","v":360},{"s":"2018","d":"2022-05-07","v":340},{"s":"2018","d":"2022-05-11","v":300},{"s":"2018","d":"2022-05-15","v":250},{"s":"2018","d":"2022-05-19","v":240},{"s":"2018","d":"2022-05-23","v":200},{"s":"2018","d":"2022-05-27","v":180},{"s":"2018","d":"2022-05-31","v":150},{"s":"2018","d":"2022-06-04","v":130},{"s":"2018","d":"2022-06-08","v":120},{"s":"2018","d":"2022-06-12","v":130},{"s":"2018","d":"2022-06-16","v":100},{"s":"2018","d":"2022-06-20","v":80},{"s":"2018","d":"2022-06-24","v":50},{"s":"2018","d":"2022-06-28","v":30},{"s":"2018","d":"2022-07-02","v":0},{"s":"2018","d":"2022-07-06","v":-20},{"s":"2018","d":"2022-07-10","v":10},{"s":"2018","d":"2022-07-14","v":50},{"s":"2018","d":"2022-07-18","v":80},{"s":"2018","d":"2022-07-22","v":60},{"s":"2018","d":"2022-07-26","v":100},{"s":"2018","d":"2022-07-30","v":120},{"s":"2018","d":"2022-08-03","v":90},{"s":"2018","d":"2022-08-07","v":100},{"s":"2018","d":"2022-08-11","v":80},{"s":"2018","d":"2022-08-13","v":60},{"s":"2018","d":"2022-08-15","v":400},{"s":"2018","d":"2022-08-17","v":600},{"s":"2018","d":"2022-08-19","v":605},{"s":"2018","d":"2022-08-23","v":610},{"s":"2018","d":"2022-08-27","v":610},{"s":"2018","d":"2022-08-31","v":600},{"s":"2018","d":"2022-09-04","v":500},{"s":"2018","d":"2022-09-06","v":480},{"s":"2018","d":"2022-09-08","v":420},{"s":"2018","d":"2022-09-10","v":400},{"s":"2018","d":"2022-09-12","v":450},{"s":"2018","d":"2022-09-14","v":520},{"s":"2018","d":"2022-09-16","v":480},{"s":"2018","d":"2022-09-18","v":560},{"s":"2018","d":"2022-09-20","v":600},{"s":"2018","d":"2022-09-24","v":620},{"s":"2018","d":"2022-09-26","v":650},{"s":"2018","d":"2022-09-28","v":640},{"s":"2018","d":"2022-09-30","v":600},{"s":"2018","d":"2022-10-02","v":560},{"s":"2018","d":"2022-10-06","v":420},{"s":"2018","d":"2022-10-10","v":400},{"s":"2018","d":"2022-10-14","v":300},{"s":"2018","d":"2022-10-16","v":200},{"s":"2018","d":"2022-10-18","v":100},{"s":"2018","d":"2022-10-20","v":50},{"s":"2018","d":"2022-10-22","v":120},{"s":"2018","d":"2022-10-24","v":150},{"s":"2018","d":"2022-10-26","v":80},{"s":"2018","d":"2022-10-30","v":60},{"s":"2018","d":"2022-11-03","v":30},{"s":"2018","d":"2022-11-07","v":50},{"s":"2018","d":"2022-11-11","v":80},{"s":"2018","d":"2022-11-15","v":100},{"s":"2018","d":"2022-11-17","v":150},{"s":"2018","d":"2022-11-19","v":300},{"s":"2018","d":"2022-11-21","v":400},{"s":"2018","d":"2022-11-23","v":390},{"s":"2018","d":"2022-11-27","v":300},{"s":"2018","d":"2022-12-01","v":300},{"s":"2018","d":"2022-12-05","v":280},{"s":"2018","d":"2022-12-07","v":200},{"s":"2018","d":"2022-12-09","v":150},{"s":"2018","d":"2022-12-13","v":100},{"s":"2018","d":"2022-12-17","v":50},{"s":"2018","d":"2022-12-21","v":80},{"s":"2018","d":"2022-12-25","v":100},{"s":"2018","d":"2022-12-29","v":0},
{"s":"2019","d":"2022-01-03","v":0},{"s":"2019","d":"2022-01-05","v":130},{"s":"2019","d":"2022-01-07","v":210},{"s":"2019","d":"2022-01-09","v":150},{"s":"2019","d":"2022-01-11","v":100},{"s":"2019","d":"2022-01-15","v":60},{"s":"2019","d":"2022-01-19","v":50},{"s":"2019","d":"2022-01-23","v":80},{"s":"2019","d":"2022-01-27","v":100},{"s":"2019","d":"2022-01-31","v":60},{"s":"2019","d":"2022-02-04","v":150},{"s":"2019","d":"2022-02-08","v":180},{"s":"2019","d":"2022-02-12","v":200},{"s":"2019","d":"2022-02-14","v":220},{"s":"2019","d":"2022-02-16","v":150},{"s":"2019","d":"2022-02-20","v":100},{"s":"2019","d":"2022-02-24","v":130},{"s":"2019","d":"2022-02-28","v":150},{"s":"2019","d":"2022-03-04","v":80},{"s":"2019","d":"2022-03-08","v":50},{"s":"2019","d":"2022-03-12","v":0},{"s":"2019","d":"2022-03-16","v":30},{"s":"2019","d":"2022-03-20","v":-10},{"s":"2019","d":"2022-03-24","v":40},{"s":"2019","d":"2022-03-26","v":200},{"s":"2019","d":"2022-03-28","v":330},{"s":"2019","d":"2022-03-30","v":370},{"s":"2019","d":"2022-04-01","v":400},{"s":"2019","d":"2022-04-03","v":380},{"s":"2019","d":"2022-04-05","v":350},{"s":"2019","d":"2022-04-07","v":300},{"s":"2019","d":"2022-04-09","v":280},{"s":"2019","d":"2022-04-13","v":150},{"s":"2019","d":"2022-04-15","v":200},{"s":"2019","d":"2022-04-17","v":180},{"s":"2019","d":"2022-04-21","v":220},{"s":"2019","d":"2022-04-25","v":250},{"s":"2019","d":"2022-04-27","v":270},{"s":"2019","d":"2022-04-29","v":220},{"s":"2019","d":"2022-05-03","v":200},{"s":"2019","d":"2022-05-07","v":150},{"s":"2019","d":"2022-05-09","v":80},{"s":"2019","d":"2022-05-11","v":0},{"s":"2019","d":"2022-05-15","v":-50},{"s":"2019","d":"2022-05-19","v":-20},{"s":"2019","d":"2022-05-23","v":0},{"s":"2019","d":"2022-05-27","v":-50},{"s":"2019","d":"2022-05-31","v":-30},{"s":"2019","d":"2022-06-04","v":-10},{"s":"2019","d":"2022-06-08","v":-40},{"s":"2019","d":"2022-06-12","v":0},{"s":"2019","d":"2022-06-16","v":-20},{"s":"2019","d":"2022-06-20","v":20},{"s":"2019","d":"2022-06-24","v":50},{"s":"2019","d":"2022-06-28","v":30},{"s":"2019","d":"2022-07-02","v":0},{"s":"2019","d":"2022-07-06","v":40},{"s":"2019","d":"2022-07-10","v":60},{"s":"2019","d":"2022-07-14","v":80},{"s":"2019","d":"2022-07-18","v":50},{"s":"2019","d":"2022-07-22","v":10},{"s":"2019","d":"2022-07-26","v":0},{"s":"2019","d":"2022-07-30","v":-40},{"s":"2019","d":"2022-08-03","v":-50},{"s":"2019","d":"2022-08-07","v":-30},{"s":"2019","d":"2022-08-11","v":0},{"s":"2019","d":"2022-08-15","v":30},{"s":"2019","d":"2022-08-19","v":40},{"s":"2019","d":"2022-08-23","v":80},{"s":"2019","d":"2022-08-27","v":100},{"s":"2019","d":"2022-08-31","v":200},{"s":"2019","d":"2022-09-04","v":280},{"s":"2019","d":"2022-09-08","v":320},{"s":"2019","d":"2022-09-12","v":360},{"s":"2019","d":"2022-09-14","v":400},{"s":"2019","d":"2022-09-16","v":380},{"s":"2019","d":"2022-09-20","v":350},{"s":"2019","d":"2022-09-24","v":340},{"s":"2019","d":"2022-09-28","v":360},{"s":"2019","d":"2022-10-02","v":350},{"s":"2019","d":"2022-10-06","v":380},{"s":"2019","d":"2022-10-10","v":360},{"s":"2019","d":"2022-10-14","v":340},{"s":"2019","d":"2022-10-18","v":380},{"s":"2019","d":"2022-10-20","v":400},{"s":"2019","d":"2022-10-22","v":300},{"s":"2019","d":"2022-10-24","v":200},{"s":"2019","d":"2022-10-26","v":250},{"s":"2019","d":"2022-10-30","v":300},{"s":"2019","d":"2022-11-03","v":280},{"s":"2019","d":"2022-11-07","v":250},{"s":"2019","d":"2022-11-11","v":150},{"s":"2019","d":"2022-11-15","v":60},{"s":"2019","d":"2022-11-19","v":0},{"s":"2019","d":"2022-11-23","v":-20},{"s":"2019","d":"2022-11-27","v":50},{"s":"2019","d":"2022-12-01","v":100},{"s":"2019","d":"2022-12-05","v":80},{"s":"2019","d":"2022-12-09","v":120},{"s":"2019","d":"2022-12-13","v":100},{"s":"2019","d":"2022-12-17","v":180},{"s":"2019","d":"2022-12-21","v":150},{"s":"2019","d":"2022-12-25","v":190},{"s":"2019","d":"2022-12-29","v":220},
{"s":"2020","d":"2022-01-05","v":450},{"s":"2020","d":"2022-01-07","v":350},{"s":"2020","d":"2022-01-09","v":250},{"s":"2020","d":"2022-01-11","v":150},{"s":"2020","d":"2022-01-13","v":140},{"s":"2020","d":"2022-01-15","v":50},{"s":"2020","d":"2022-01-17","v":40},{"s":"2020","d":"2022-01-19","v":30},{"s":"2020","d":"2022-01-23","v":0},{"s":"2020","d":"2022-01-27","v":20},{"s":"2020","d":"2022-01-31","v":-10},{"s":"2020","d":"2022-02-04","v":10},{"s":"2020","d":"2022-02-08","v":30},{"s":"2020","d":"2022-02-12","v":0},{"s":"2020","d":"2022-02-16","v":50},{"s":"2020","d":"2022-02-20","v":80},{"s":"2020","d":"2022-02-24","v":70},{"s":"2020","d":"2022-02-28","v":60},{"s":"2020","d":"2022-03-04","v":50},{"s":"2020","d":"2022-03-08","v":80},{"s":"2020","d":"2022-03-12","v":60},{"s":"2020","d":"2022-03-16","v":40},{"s":"2020","d":"2022-03-20","v":0},{"s":"2020","d":"2022-03-24","v":-20},{"s":"2020","d":"2022-03-28","v":-40},{"s":"2020","d":"2022-04-01","v":50},{"s":"2020","d":"2022-04-05","v":90},{"s":"2020","d":"2022-04-09","v":60},{"s":"2020","d":"2022-04-13","v":80},{"s":"2020","d":"2022-04-17","v":40},{"s":"2020","d":"2022-04-21","v":70},{"s":"2020","d":"2022-04-25","v":50},{"s":"2020","d":"2022-04-29","v":30},{"s":"2020","d":"2022-05-03","v":10},{"s":"2020","d":"2022-05-07","v":-20},{"s":"2020","d":"2022-05-11","v":-40},{"s":"2020","d":"2022-05-15","v":-60},{"s":"2020","d":"2022-05-19","v":-70},{"s":"2020","d":"2022-05-23","v":-90},{"s":"2020","d":"2022-05-27","v":-100},{"s":"2020","d":"2022-05-31","v":-120},{"s":"2020","d":"2022-06-04","v":-110},{"s":"2020","d":"2022-06-08","v":-130},{"s":"2020","d":"2022-06-12","v":-120},{"s":"2020","d":"2022-06-16","v":-140},{"s":"2020","d":"2022-06-20","v":-110},{"s":"2020","d":"2022-06-24","v":-130},{"s":"2020","d":"2022-06-28","v":-100},{"s":"2020","d":"2022-07-02","v":-80},{"s":"2020","d":"2022-07-06","v":-60},{"s":"2020","d":"2022-07-10","v":-30},{"s":"2020","d":"2022-07-14","v":0},{"s":"2020","d":"2022-07-18","v":20},{"s":"2020","d":"2022-07-22","v":60},{"s":"2020","d":"2022-07-26","v":80},{"s":"2020","d":"2022-07-30","v":110},{"s":"2020","d":"2022-08-03","v":140},{"s":"2020","d":"2022-08-07","v":160},{"s":"2020","d":"2022-08-11","v":150},{"s":"2020","d":"2022-08-15","v":130},{"s":"2020","d":"2022-08-19","v":110},{"s":"2020","d":"2022-08-23","v":100},{"s":"2020","d":"2022-08-27","v":110},{"s":"2020","d":"2022-08-31","v":130},{"s":"2020","d":"2022-09-04","v":120},{"s":"2020","d":"2022-09-08","v":150},{"s":"2020","d":"2022-09-12","v":180},{"s":"2020","d":"2022-09-16","v":130},{"s":"2020","d":"2022-09-20","v":160},{"s":"2020","d":"2022-09-22","v":120},{"s":"2020","d":"2022-09-24","v":280},{"s":"2020","d":"2022-09-28","v":300},{"s":"2020","d":"2022-10-02","v":270},{"s":"2020","d":"2022-10-06","v":350},{"s":"2020","d":"2022-10-08","v":250},{"s":"2020","d":"2022-10-10","v":220},{"s":"2020","d":"2022-10-14","v":200},{"s":"2020","d":"2022-10-18","v":150},{"s":"2020","d":"2022-10-22","v":100},{"s":"2020","d":"2022-10-24","v":60},{"s":"2020","d":"2022-10-26","v":80},{"s":"2020","d":"2022-10-30","v":40},{"s":"2020","d":"2022-11-03","v":-20},{"s":"2020","d":"2022-11-07","v":-50},{"s":"2020","d":"2022-11-11","v":20},{"s":"2020","d":"2022-11-15","v":50},{"s":"2020","d":"2022-11-19","v":-30},{"s":"2020","d":"2022-11-23","v":-100},{"s":"2020","d":"2022-11-27","v":-40},{"s":"2020","d":"2022-12-01","v":0},{"s":"2020","d":"2022-12-05","v":-50},{"s":"2020","d":"2022-12-09","v":-20},{"s":"2020","d":"2022-12-13","v":-60},{"s":"2020","d":"2022-12-17","v":50},{"s":"2020","d":"2022-12-21","v":150},{"s":"2020","d":"2022-12-23","v":100},{"s":"2020","d":"2022-12-25","v":0},{"s":"2020","d":"2022-12-27","v":-80},{"s":"2020","d":"2022-12-29","v":-120},
{"s":"2021","d":"2022-01-03","v":-60},{"s":"2021","d":"2022-01-05","v":-30},{"s":"2021","d":"2022-01-07","v":80},{"s":"2021","d":"2022-01-09","v":-20},{"s":"2021","d":"2022-01-11","v":-80},{"s":"2021","d":"2022-01-13","v":-100},{"s":"2021","d":"2022-01-15","v":-40},{"s":"2021","d":"2022-01-19","v":20},{"s":"2021","d":"2022-01-21","v":-60},{"s":"2021","d":"2022-01-23","v":30},{"s":"2021","d":"2022-01-27","v":-50},{"s":"2021","d":"2022-01-29","v":-20},{"s":"2021","d":"2022-01-31","v":0},{"s":"2021","d":"2022-02-02","v":-70},{"s":"2021","d":"2022-02-04","v":-40},{"s":"2021","d":"2022-02-08","v":0},{"s":"2021","d":"2022-02-12","v":-80},{"s":"2021","d":"2022-02-14","v":-30},{"s":"2021","d":"2022-02-16","v":40},{"s":"2021","d":"2022-02-20","v":50},{"s":"2021","d":"2022-02-22","v":-20},{"s":"2021","d":"2022-02-24","v":-90},{"s":"2021","d":"2022-02-28","v":-100},{"s":"2021","d":"2022-03-02","v":-30},{"s":"2021","d":"2022-03-04","v":0},{"s":"2021","d":"2022-03-06","v":-80},{"s":"2021","d":"2022-03-08","v":-50},{"s":"2021","d":"2022-03-10","v":-120},{"s":"2021","d":"2022-03-12","v":-90},{"s":"2021","d":"2022-03-16","v":-140},{"s":"2021","d":"2022-03-20","v":-150},{"s":"2021","d":"2022-03-22","v":-170},{"s":"2021","d":"2022-03-24","v":-180},{"s":"2021","d":"2022-03-26","v":-100},{"s":"2021","d":"2022-03-28","v":100},{"s":"2021","d":"2022-03-30","v":30},{"s":"2021","d":"2022-04-01","v":-80},{"s":"2021","d":"2022-04-03","v":20},{"s":"2021","d":"2022-04-05","v":-50},{"s":"2021","d":"2022-04-07","v":60},{"s":"2021","d":"2022-04-09","v":50},{"s":"2021","d":"2022-04-11","v":-60},{"s":"2021","d":"2022-04-13","v":40},{"s":"2021","d":"2022-04-15","v":-20},{"s":"2021","d":"2022-04-17","v":0},{"s":"2021","d":"2022-04-19","v":60},{"s":"2021","d":"2022-04-21","v":-50},{"s":"2021","d":"2022-04-23","v":80},{"s":"2021","d":"2022-04-25","v":-20},{"s":"2021","d":"2022-04-27","v":50},{"s":"2021","d":"2022-04-29","v":0},{"s":"2021","d":"2022-05-01","v":-150},{"s":"2021","d":"2022-05-03","v":80},{"s":"2021","d":"2022-05-05","v":-50},{"s":"2021","d":"2022-05-07","v":-120},{"s":"2021","d":"2022-05-09","v":-180},{"s":"2021","d":"2022-05-11","v":-220},{"s":"2021","d":"2022-05-13","v":-200},{"s":"2021","d":"2022-05-15","v":-250},{"s":"2021","d":"2022-05-17","v":-300},{"s":"2021","d":"2022-05-19","v":-260},{"s":"2021","d":"2022-05-21","v":-350},{"s":"2021","d":"2022-05-23","v":-300},{"s":"2021","d":"2022-05-25","v":-250},{"s":"2021","d":"2022-05-27","v":-220},{"s":"2021","d":"2022-05-29","v":-270},{"s":"2021","d":"2022-05-31","v":-300},{"s":"2021","d":"2022-06-02","v":-230},{"s":"2021","d":"2022-06-04","v":-320},{"s":"2021","d":"2022-06-06","v":-280},{"s":"2021","d":"2022-06-08","v":-210},{"s":"2021","d":"2022-06-10","v":-300},{"s":"2021","d":"2022-06-12","v":-350},{"s":"2021","d":"2022-06-14","v":-260},{"s":"2021","d":"2022-06-16","v":-280},{"s":"2021","d":"2022-06-18","v":-230},{"s":"2021","d":"2022-06-20","v":-270},{"s":"2021","d":"2022-06-22","v":-60},{"s":"2021","d":"2022-06-24","v":-100},{"s":"2021","d":"2022-06-28","v":-50},{"s":"2021","d":"2022-07-02","v":-80},{"s":"2021","d":"2022-07-06","v":20},{"s":"2021","d":"2022-07-10","v":0},{"s":"2021","d":"2022-07-14","v":60},{"s":"2021","d":"2022-07-18","v":30},{"s":"2021","d":"2022-07-22","v":-20},{"s":"2021","d":"2022-07-26","v":40},{"s":"2021","d":"2022-07-30","v":80},{"s":"2021","d":"2022-08-03","v":120},{"s":"2021","d":"2022-08-07","v":50},{"s":"2021","d":"2022-08-09","v":-40},{"s":"2021","d":"2022-08-11","v":-90},{"s":"2021","d":"2022-08-13","v":-120},{"s":"2021","d":"2022-08-15","v":100},{"s":"2021","d":"2022-08-19","v":200},{"s":"2021","d":"2022-08-23","v":220},{"s":"2021","d":"2022-08-27","v":230},{"s":"2021","d":"2022-08-31","v":250},{"s":"2021","d":"2022-09-04","v":260},{"s":"2021","d":"2022-09-06","v":400},{"s":"2021","d":"2022-09-08","v":350},{"s":"2021","d":"2022-09-10","v":380},{"s":"2021","d":"2022-09-12","v":300},{"s":"2021","d":"2022-09-14","v":450},{"s":"2021","d":"2022-09-16","v":500},{"s":"2021","d":"2022-09-18","v":600},{"s":"2021","d":"2022-09-20","v":480},{"s":"2021","d":"2022-09-22","v":700},{"s":"2021","d":"2022-09-24","v":620},{"s":"2021","d":"2022-09-26","v":790},{"s":"2021","d":"2022-09-28","v":680},{"s":"2021","d":"2022-09-30","v":720},{"s":"2021","d":"2022-10-02","v":650},{"s":"2021","d":"2022-10-04","v":300},{"s":"2021","d":"2022-10-06","v":420},{"s":"2021","d":"2022-10-08","v":600},{"s":"2021","d":"2022-10-10","v":620},{"s":"2021","d":"2022-10-12","v":520},{"s":"2021","d":"2022-10-14","v":480},{"s":"2021","d":"2022-10-16","v":420},{"s":"2021","d":"2022-10-18","v":350},{"s":"2021","d":"2022-10-22","v":300},{"s":"2021","d":"2022-10-26","v":250},{"s":"2021","d":"2022-10-30","v":220},{"s":"2021","d":"2022-11-03","v":180},{"s":"2021","d":"2022-11-07","v":250},{"s":"2021","d":"2022-11-11","v":300},{"s":"2021","d":"2022-11-15","v":200},{"s":"2021","d":"2022-11-19","v":220},{"s":"2021","d":"2022-11-23","v":250},{"s":"2021","d":"2022-11-27","v":150},{"s":"2021","d":"2022-12-01","v":230},{"s":"2021","d":"2022-12-05","v":100},{"s":"2021","d":"2022-12-09","v":150},{"s":"2021","d":"2022-12-13","v":120},{"s":"2021","d":"2022-12-15","v":200},{"s":"2021","d":"2022-12-17","v":430},{"s":"2021","d":"2022-12-19","v":330},{"s":"2021","d":"2022-12-21","v":350},{"s":"2021","d":"2022-12-23","v":330},{"s":"2021","d":"2022-12-25","v":360},{"s":"2021","d":"2022-12-27","v":300},{"s":"2021","d":"2022-12-29","v":230}
]
},
"hconcat": [
{
"width": 315,
"height": 262,
"title": {"text": "阳历近月基差", "dx": -15},
"data": {"name": "left"},
"mark": {"type": "line", "strokeWidth": 2, "clip": true},
"encoding": {
"x": {"field": "d", "type": "temporal",
"scale": {"type": "utc", "domain": [{"year": 2021, "month": 12, "date": 30, "utc": true}, {"year": 2023, "month": 1, "date": 2, "utc": true}]},
"axis": {"title": null, "labelExpr": "utcFormat(datum.value, '%Y-%-m-%-d')", "labelAngle": -45, "offset": -98, "grid": false, "ticks": false, "domainColor": "#d9d9d9", "labelFontSize": 7, "labelColor": "#595959", "labelPadding": 2, "labelOverlap": false,
"values": [{"year":2022,"month":1,"date":1,"utc":true},{"year":2022,"month":2,"date":1,"utc":true},{"year":2022,"month":3,"date":1,"utc":true},{"year":2022,"month":4,"date":1,"utc":true},{"year":2022,"month":5,"date":1,"utc":true},{"year":2022,"month":6,"date":1,"utc":true},{"year":2022,"month":7,"date":1,"utc":true},{"year":2022,"month":8,"date":1,"utc":true},{"year":2022,"month":9,"date":1,"utc":true},{"year":2022,"month":10,"date":1,"utc":true},{"year":2022,"month":11,"date":1,"utc":true},{"year":2022,"month":12,"date":1,"utc":true},{"year":2023,"month":1,"date":1,"utc":true}]}},
"y": {"field": "v", "type": "quantitative", "scale": {"domain": [-600, 1000], "nice": false},
"axis": {"title": null, "format": "d", "values": [-600, -400, -200, 0, 200, 400, 600, 800, 1000], "minExtent": 24, "maxExtent": 24}},
"color": {"field": "s", "type": "nominal",
"scale": {"domain": ["2017", "2018", "2019", "2020", "2021", "2022"], "range": ["#7030a0", "#00b0f0", "#92d050", "#ffc000", "#000000", "#ff0000"]},
"legend": {"title": null, "orient": "none", "legendX": 60, "legendY": 273}}
}
},
{
"width": 307,
"height": 260,
"title": {"text": "农历近月基差", "dx": -4},
"data": {"name": "right"},
"mark": {"type": "line", "strokeWidth": 2, "clip": true},
"encoding": {
"x": {"field": "d", "type": "temporal",
"scale": {"type": "utc", "domain": [{"year": 2021, "month": 12, "date": 30, "utc": true}, {"year": 2022, "month": 12, "date": 30, "utc": true}]},
"axis": {"title": null, "labelExpr": "utcFormat(datum.value, '%Y-%-m-%-d')", "labelAngle": -45, "offset": -97.5, "grid": false, "ticks": false, "domainColor": "#d9d9d9", "labelFontSize": 7, "labelColor": "#595959", "labelPadding": 2, "labelOverlap": false,
"values": [{"year":2022,"month":1,"date":1,"utc":true},{"year":2022,"month":2,"date":1,"utc":true},{"year":2022,"month":3,"date":1,"utc":true},{"year":2022,"month":4,"date":1,"utc":true},{"year":2022,"month":5,"date":1,"utc":true},{"year":2022,"month":6,"date":1,"utc":true},{"year":2022,"month":7,"date":1,"utc":true},{"year":2022,"month":8,"date":1,"utc":true},{"year":2022,"month":9,"date":1,"utc":true},{"year":2022,"month":10,"date":1,"utc":true},{"year":2022,"month":11,"date":1,"utc":true},{"year":2022,"month":12,"date":1,"utc":true}]}},
"y": {"field": "v", "type": "quantitative", "scale": {"domain": [-600, 1000], "nice": false},
"axis": {"title": null, "format": "d", "values": [-600, -400, -200, 0, 200, 400, 600, 800, 1000], "minExtent": 24, "maxExtent": 24}},
"color": {"field": "s", "type": "nominal",
"scale": {"domain": ["2016", "2017", "2018", "2019", "2020", "2021"], "range": ["#7030a0", "#00b0f0", "#92d050", "#ffff00", "#000000", "#ff0000"]},
"legend": {"title": null, "orient": "none", "legendX": 36, "legendY": 269}}
}
}
],
"resolve": {"scale": {"color": "independent", "x": "independent", "y": "independent"}, "legend": {"color": "independent"}, "axis": {"x": "independent", "y": "independent"}},
"config": {
"view": {"stroke": null},
"font": "Liberation Sans",
"title": {"font": "Noto Sans CJK SC", "fontSize": 10, "fontWeight": "normal", "color": "#595959", "anchor": "middle", "offset": 17},
"axis": {"labelFont": "Liberation Sans", "labelColor": "#595959", "labelFontSize": 7, "gridColor": "#d9d9d9", "gridWidth": 1},
"axisY": {"domain": false, "ticks": false, "labelPadding": 6},
"legend": {"direction": "horizontal", "symbolType": "stroke", "symbolStrokeWidth": 3, "symbolSize": 140, "labelFontSize": 7, "labelColor": "#595959", "labelFont": "Liberation Sans", "columnPadding": -4, "labelOffset": 2, "padding": 0}
}
}
